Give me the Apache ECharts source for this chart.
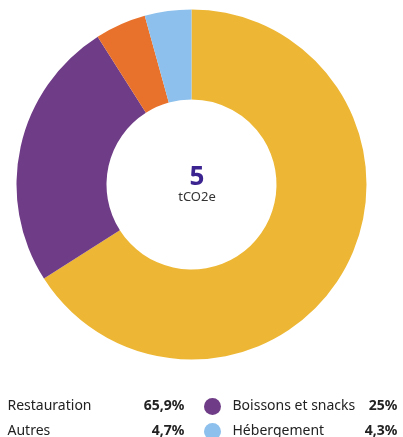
<!DOCTYPE html>
<html>
<head>
<meta charset="utf-8">
<script src="https://cdn.jsdelivr.net/npm/echarts@6/dist/echarts.min.js"></script>
<style>
html,body{margin:0;padding:0;background:#fff;}
#c{width:403px;height:437px;}
</style>
</head>
<body>
<div id="c"></div>
<script>
const categories = ['Restauration', 'Boissons et snacks', 'Autres', 'Hébergement'];
const values = [65.9, 25, 4.7, 4.3];
const valueLabels = ['65,9%', '25%', '4,7%', '4,3%'];
const colors = ['#EDB735', '#6F3C87', '#E8722C', '#8DC0EC'];
const totalValue = '5';
const totalUnit = 'tCO2e';

const chart = echarts.init(document.getElementById('c'));
const FONT = '"Noto Sans", Lato, sans-serif';
function fmt(name){
  const i = categories.indexOf(name);
  return '{n|' + name + '}{v|' + valueLabels[i] + '}';
}
// legend layout: [name, left, top, hidden marker, name width, value width]
const legendCells = [
  [categories[0], -21, 398, true, 118, 59],
  [categories[2], -21, 423, true, 118, 59],
  [categories[1], 204, 398, false, 125, 40],
  [categories[3], 204, 423, false, 125, 40]
];

chart.setOption({
  animation: false,
  title: {
    text: totalValue,
    subtext: totalUnit,
    left: 192,
    top: 160,
    textAlign: 'center',
    itemGap: 0,
    textStyle: { color: '#3C2490', fontSize: 26, fontWeight: 'bold', fontFamily: FONT },
    subtextStyle: { color: '#333', fontSize: 13, fontFamily: FONT }
  },
  legend: legendCells.map(c => ({
    data: [c[3] ? { name: c[0], itemStyle: { opacity: 0 } } : c[0]],
    orient: 'horizontal',
    left: c[1],
    top: c[2],
    padding: 0,
    icon: 'circle',
    itemWidth: 30,
    itemHeight: 17,
    selectedMode: false,
    formatter: fmt,
    textStyle: {
      fontFamily: FONT,
      rich: {
        n: { width: c[4], fontSize: 14, color: '#222', fontFamily: FONT },
        v: { width: c[5], align: 'right', fontSize: 14, fontWeight: 'bold', color: '#222', fontFamily: FONT }
      }
    }
  })),
  series: [{
    type: 'pie',
    center: [191.5, 184.5],
    radius: [85, 175],
    startAngle: 90,
    clockwise: true,
    label: { show: false },
    labelLine: { show: false },
    emphasis: { disabled: true },
    data: categories.map((c, i) => ({ name: c, value: values[i], itemStyle: { color: colors[i] } }))
  }]
});
</script>
</body>
</html>
